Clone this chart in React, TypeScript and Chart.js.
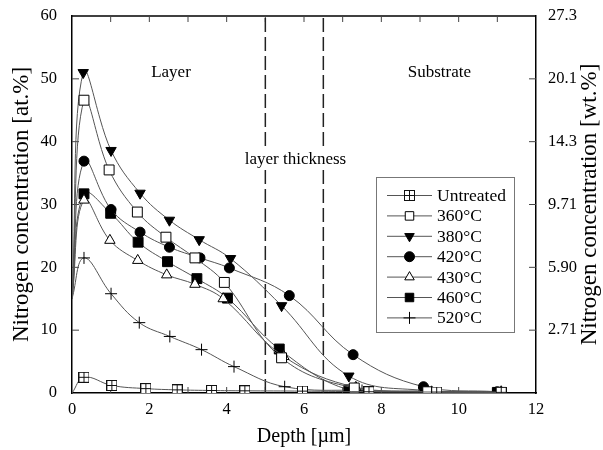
import React, { useEffect, useRef } from 'react';
import { Chart, registerables } from 'chart.js';
import { drawPoint } from 'chart.js/helpers';

Chart.register(...registerables);

// ---- data ----
const seriesNames = ['Untreated', '360°C', '380°C', '420°C', '430°C', '460°C', '520°C'];

const untreatedX = [0, 0.31, 1.03, 1.91, 2.72, 3.61, 4.47, 5.96, 7.68, 9.43, 11.1];
const untreatedY = [0, 2.5, 1.2, 0.7, 0.5, 0.4, 0.35, 0.3, 0.2, 0.15, 0.1];

const t360X = [0, 0.31, 0.96, 1.69, 2.43, 3.18, 3.94, 5.42, 7.3, 9.2, 11.1];
const t360Y = [15, 46.6, 35.5, 28.8, 24.8, 21.5, 17.6, 5.6, 0.8, 0.2, 0.1];

const t380X = [0, 0.29, 1.01, 1.76, 2.52, 3.29, 4.1, 5.42, 7.16, 9.1, 11.1];
const t380Y = [15, 51.0, 38.6, 31.8, 27.5, 24.4, 21.4, 13.9, 2.7, 0.4, 0.1];

const t420X = [0, 0.31, 1.01, 1.76, 2.52, 3.31, 4.07, 5.62, 7.27, 9.09, 11.0];
const t420Y = [15, 36.9, 29.2, 25.6, 23.2, 21.5, 19.9, 15.5, 6.1, 1.0, 0.2];

const t430X = [0, 0.31, 0.98, 1.7, 2.45, 3.18, 3.91, 5.48, 7.34, 9.2, 11.1];
const t430Y = [15, 30.7, 24.3, 21.1, 18.8, 17.3, 15.0, 5.8, 0.9, 0.3, 0.2];

const t460X = [0, 0.31, 1.0, 1.71, 2.47, 3.23, 4.02, 5.36, 7.16, 9.1, 11.0];
const t460Y = [15, 31.7, 28.6, 24.0, 20.9, 18.2, 15.1, 7.0, 0.5, 0.2, 0.1];

const t520X = [0, 0.31, 1.01, 1.74, 2.53, 3.35, 4.19, 5.5, 7.5, 9.3, 11.1];
const t520Y = [15, 21.5, 15.8, 11.2, 9.0, 6.9, 4.2, 1.0, 0.4, 0.2, 0.1];

const xTickValues = [0, 2, 4, 6, 8, 10, 12];
const leftTickValues = [0, 10, 20, 30, 40, 50, 60];
const rightTickLabels = ['', '2.71', '5.90', '9.71', '14.3', '20.1', '27.3'];

const layerBoundaries = [5.0, 6.5];

const noteTexts = ['Layer', 'Substrate', 'layer thickness'];
const noteX = [2.56, 9.5, 5.78];
const noteY = [51, 51, 37.2];

const FONT = "'Liberation Serif', 'Times New Roman', serif";

function pts(xs: number[], ys: number[]) {
  return xs.map((x, i) => ({ x, y: ys[i] }));
}

function makeUntreatedMarker(): HTMLCanvasElement {
  const c = document.createElement('canvas');
  c.width = 11;
  c.height = 11;
  const g = c.getContext('2d')!;
  g.fillStyle = '#fff';
  g.fillRect(0.5, 0.5, 10, 10);
  g.strokeStyle = '#111';
  g.lineWidth = 1;
  g.strokeRect(0.5, 0.5, 10, 10);
  g.beginPath();
  g.moveTo(5.5, 0.5);
  g.lineTo(5.5, 10.5);
  g.moveTo(0.5, 5.5);
  g.lineTo(10.5, 5.5);
  g.stroke();
  return c;
}

const decorPlugin = {
  id: 'decor',
  beforeDatasetsDraw(chart: any) {
    const { ctx, chartArea } = chart;
    const { left, right, top, bottom } = chartArea;
    ctx.save();
    ctx.strokeStyle = '#000';
    ctx.lineWidth = 1.5;
    ctx.beginPath();
    ctx.moveTo(left, top);
    ctx.lineTo(right, top);
    ctx.stroke();
    ctx.lineWidth = 1;
    ctx.strokeStyle = '#444';
    const xs = chart.scales.x;
    const ys = chart.scales.y;
    for (let v = 1; v < 12; v++) {
      const px = xs.getPixelForValue(v);
      ctx.beginPath();
      ctx.moveTo(px, bottom);
      ctx.lineTo(px, bottom - 6);
      ctx.moveTo(px, top);
      ctx.lineTo(px, top + 6);
      ctx.stroke();
    }
    for (let v = 10; v < 60; v += 10) {
      const py = ys.getPixelForValue(v);
      ctx.beginPath();
      ctx.moveTo(left, py);
      ctx.lineTo(left + 7, py);
      ctx.moveTo(right, py);
      ctx.lineTo(right - 7, py);
      ctx.stroke();
    }
    ctx.restore();
  },
  afterDatasetsDraw(chart: any) {
    const { ctx, chartArea } = chart;
    const xs = chart.scales.x;
    const ys = chart.scales.y;
    ctx.save();
    ctx.font = `17px ${FONT}`;
    ctx.textAlign = 'center';
    ctx.textBaseline = 'middle';
    noteTexts.forEach((t, i) => {
      const px = xs.getPixelForValue(noteX[i]);
      const py = ys.getPixelForValue(noteY[i]);
      const w = ctx.measureText(t).width;
      ctx.fillStyle = '#fff';
      ctx.fillRect(px - w / 2 - 2, py - 10, w + 4, 20);
      ctx.fillStyle = '#000';
      ctx.fillText(t, px, py);
    });

    // right axis title (reads bottom-to-top)
    ctx.save();
    ctx.translate(590, (chartArea.top + chartArea.bottom) / 2);
    ctx.rotate(-Math.PI / 2);
    ctx.font = `23px ${FONT}`;
    ctx.fillStyle = '#000';
    ctx.textAlign = 'center';
    ctx.textBaseline = 'middle';
    ctx.fillText('Nitrogen concentration [wt.%]', 0, 0);
    ctx.restore();

    // legend box
    const bx = 376.5, by = 177.5, bw = 138, bh = 155;
    ctx.fillStyle = '#fff';
    ctx.fillRect(bx, by, bw, bh);
    ctx.strokeStyle = '#777';
    ctx.lineWidth = 1;
    ctx.strokeRect(bx, by, bw, bh);
    ctx.font = `17.5px ${FONT}`;
    ctx.textAlign = 'left';
    ctx.textBaseline = 'middle';
    const n = seriesNames.length;
    for (let i = 0; i < n; i++) {
      const ds = chart.data.datasets[i];
      const ly = 195.5 + i * 20.4;
      ctx.strokeStyle = ds.borderColor;
      ctx.lineWidth = 1;
      ctx.beginPath();
      ctx.moveTo(387, ly);
      ctx.lineTo(432, ly);
      ctx.stroke();
      ctx.fillStyle = ds.pointBackgroundColor;
      ctx.strokeStyle = ds.pointBorderColor;
      ctx.lineWidth = ds.pointBorderWidth;
      drawPoint(
        ctx,
        {
          pointStyle: ds.pointStyle,
          rotation: ds.pointRotation || 0,
          radius: ds.legendRadius,
          borderWidth: ds.pointBorderWidth,
        } as any,
        409.5,
        ly
      );
      ctx.fillStyle = '#000';
      ctx.fillText(seriesNames[i], 437, ly + 1);
    }
    ctx.restore();
  },
};

export default function App() {
  const ref = useRef<HTMLCanvasElement | null>(null);
  useEffect(() => {
    document.body.style.margin = '0';
    const untreatedMarker = makeUntreatedMarker();
    const radiusFn = (r: number) => (c: any) => (c.dataIndex === 0 ? 0 : r);
    const common = {
      borderColor: '#555',
      borderWidth: 1,
      pointBorderColor: '#000',
      pointBorderWidth: 1,
      tension: 0.4,
      fill: false,
    };
    const datasets: any[] = [
      { ...common, label: seriesNames[0], data: pts(untreatedX, untreatedY), pointStyle: untreatedMarker, pointBackgroundColor: '#fff', pointRadius: radiusFn(5.5), legendRadius: 5.5 },
      { ...common, label: seriesNames[1], data: pts(t360X, t360Y), pointStyle: 'rect', pointBackgroundColor: '#fff', pointRadius: radiusFn(7), legendRadius: 6 },
      { ...common, label: seriesNames[2], data: pts(t380X, t380Y), pointStyle: 'triangle', pointRotation: 180, pointBackgroundColor: '#000', pointRadius: radiusFn(6), legendRadius: 5.5 },
      { ...common, label: seriesNames[3], data: pts(t420X, t420Y), pointStyle: 'circle', pointBackgroundColor: '#000', pointRadius: radiusFn(5), legendRadius: 5 },
      { ...common, label: seriesNames[4], data: pts(t430X, t430Y), pointStyle: 'triangle', pointBackgroundColor: '#fff', pointRadius: radiusFn(6), legendRadius: 5.5 },
      { ...common, label: seriesNames[5], data: pts(t460X, t460Y), pointStyle: 'rect', pointBackgroundColor: '#000', pointRadius: radiusFn(7), legendRadius: 6 },
      { ...common, label: seriesNames[6], data: pts(t520X, t520Y), pointStyle: 'cross', pointBackgroundColor: '#000', pointRadius: radiusFn(6), legendRadius: 6 },
    ];
    layerBoundaries.forEach((b) => {
      datasets.push({
        label: 'boundary',
        data: [{ x: b, y: 0 }, { x: b, y: 60 }],
        borderColor: '#222',
        borderWidth: 1.5,
        borderDash: [14, 5],
        pointRadius: 0,
        tension: 0,
      });
    });

    const chart = new Chart(ref.current!, {
      type: 'line',
      data: { datasets },
      options: {
        animation: false,
        responsive: false,
        devicePixelRatio: 1,
        layout: { padding: { top: 16, left: 0, right: 0, bottom: 0 } },
        plugins: { legend: { display: false }, tooltip: { enabled: false } },
        scales: {
          x: {
            type: 'linear',
            min: 0,
            max: 12,
            afterFit: (s: any) => { s.height = 57; s.paddingLeft = 0; s.paddingRight = 0; },
            afterBuildTicks: (s: any) => { s.ticks = xTickValues.map((v) => ({ value: v })); },
            ticks: { color: '#000', font: { family: FONT, size: 16.5 }, padding: 7 },
            grid: { display: true, drawOnChartArea: false, drawTicks: false },
            border: { color: '#000', width: 1.5 },
            title: { display: true, text: 'Depth [µm]', color: '#000', font: { family: FONT, size: 20 }, padding: { top: 0, bottom: 1 } },
          },
          y: {
            type: 'linear',
            position: 'left',
            min: 0,
            max: 60,
            afterFit: (s: any) => { s.width = 72; s.paddingTop = 0; s.paddingBottom = 0; },
            afterBuildTicks: (s: any) => { s.ticks = leftTickValues.map((v) => ({ value: v })); },
            ticks: { color: '#000', font: { family: FONT, size: 16.5 }, padding: 15 },
            grid: { display: true, drawOnChartArea: false, drawTicks: false },
            border: { color: '#000', width: 1.5 },
            title: { display: true, text: 'Nitrogen concentration [at.%]', color: '#000', font: { family: FONT, size: 23 }, padding: { top: 8, bottom: 0 } },
          },
          y2: {
            type: 'linear',
            position: 'right',
            min: 0,
            max: 60,
            afterFit: (s: any) => { s.width = 67; s.paddingTop = 0; s.paddingBottom = 0; },
            afterBuildTicks: (s: any) => { s.ticks = leftTickValues.map((v) => ({ value: v })); },
            ticks: {
              color: '#000',
              font: { family: FONT, size: 16.5 },
              padding: 12,
              callback: (_v: any, i: number) => rightTickLabels[i],
            },
            grid: { display: true, drawOnChartArea: false, drawTicks: false },
            border: { color: '#000', width: 1.5 },
          },
        },
      },
      plugins: [decorPlugin],
    } as any);
    return () => chart.destroy();
  }, []);
  return <canvas ref={ref} width={603} height={450} style={{ display: 'block' }} />;
}
